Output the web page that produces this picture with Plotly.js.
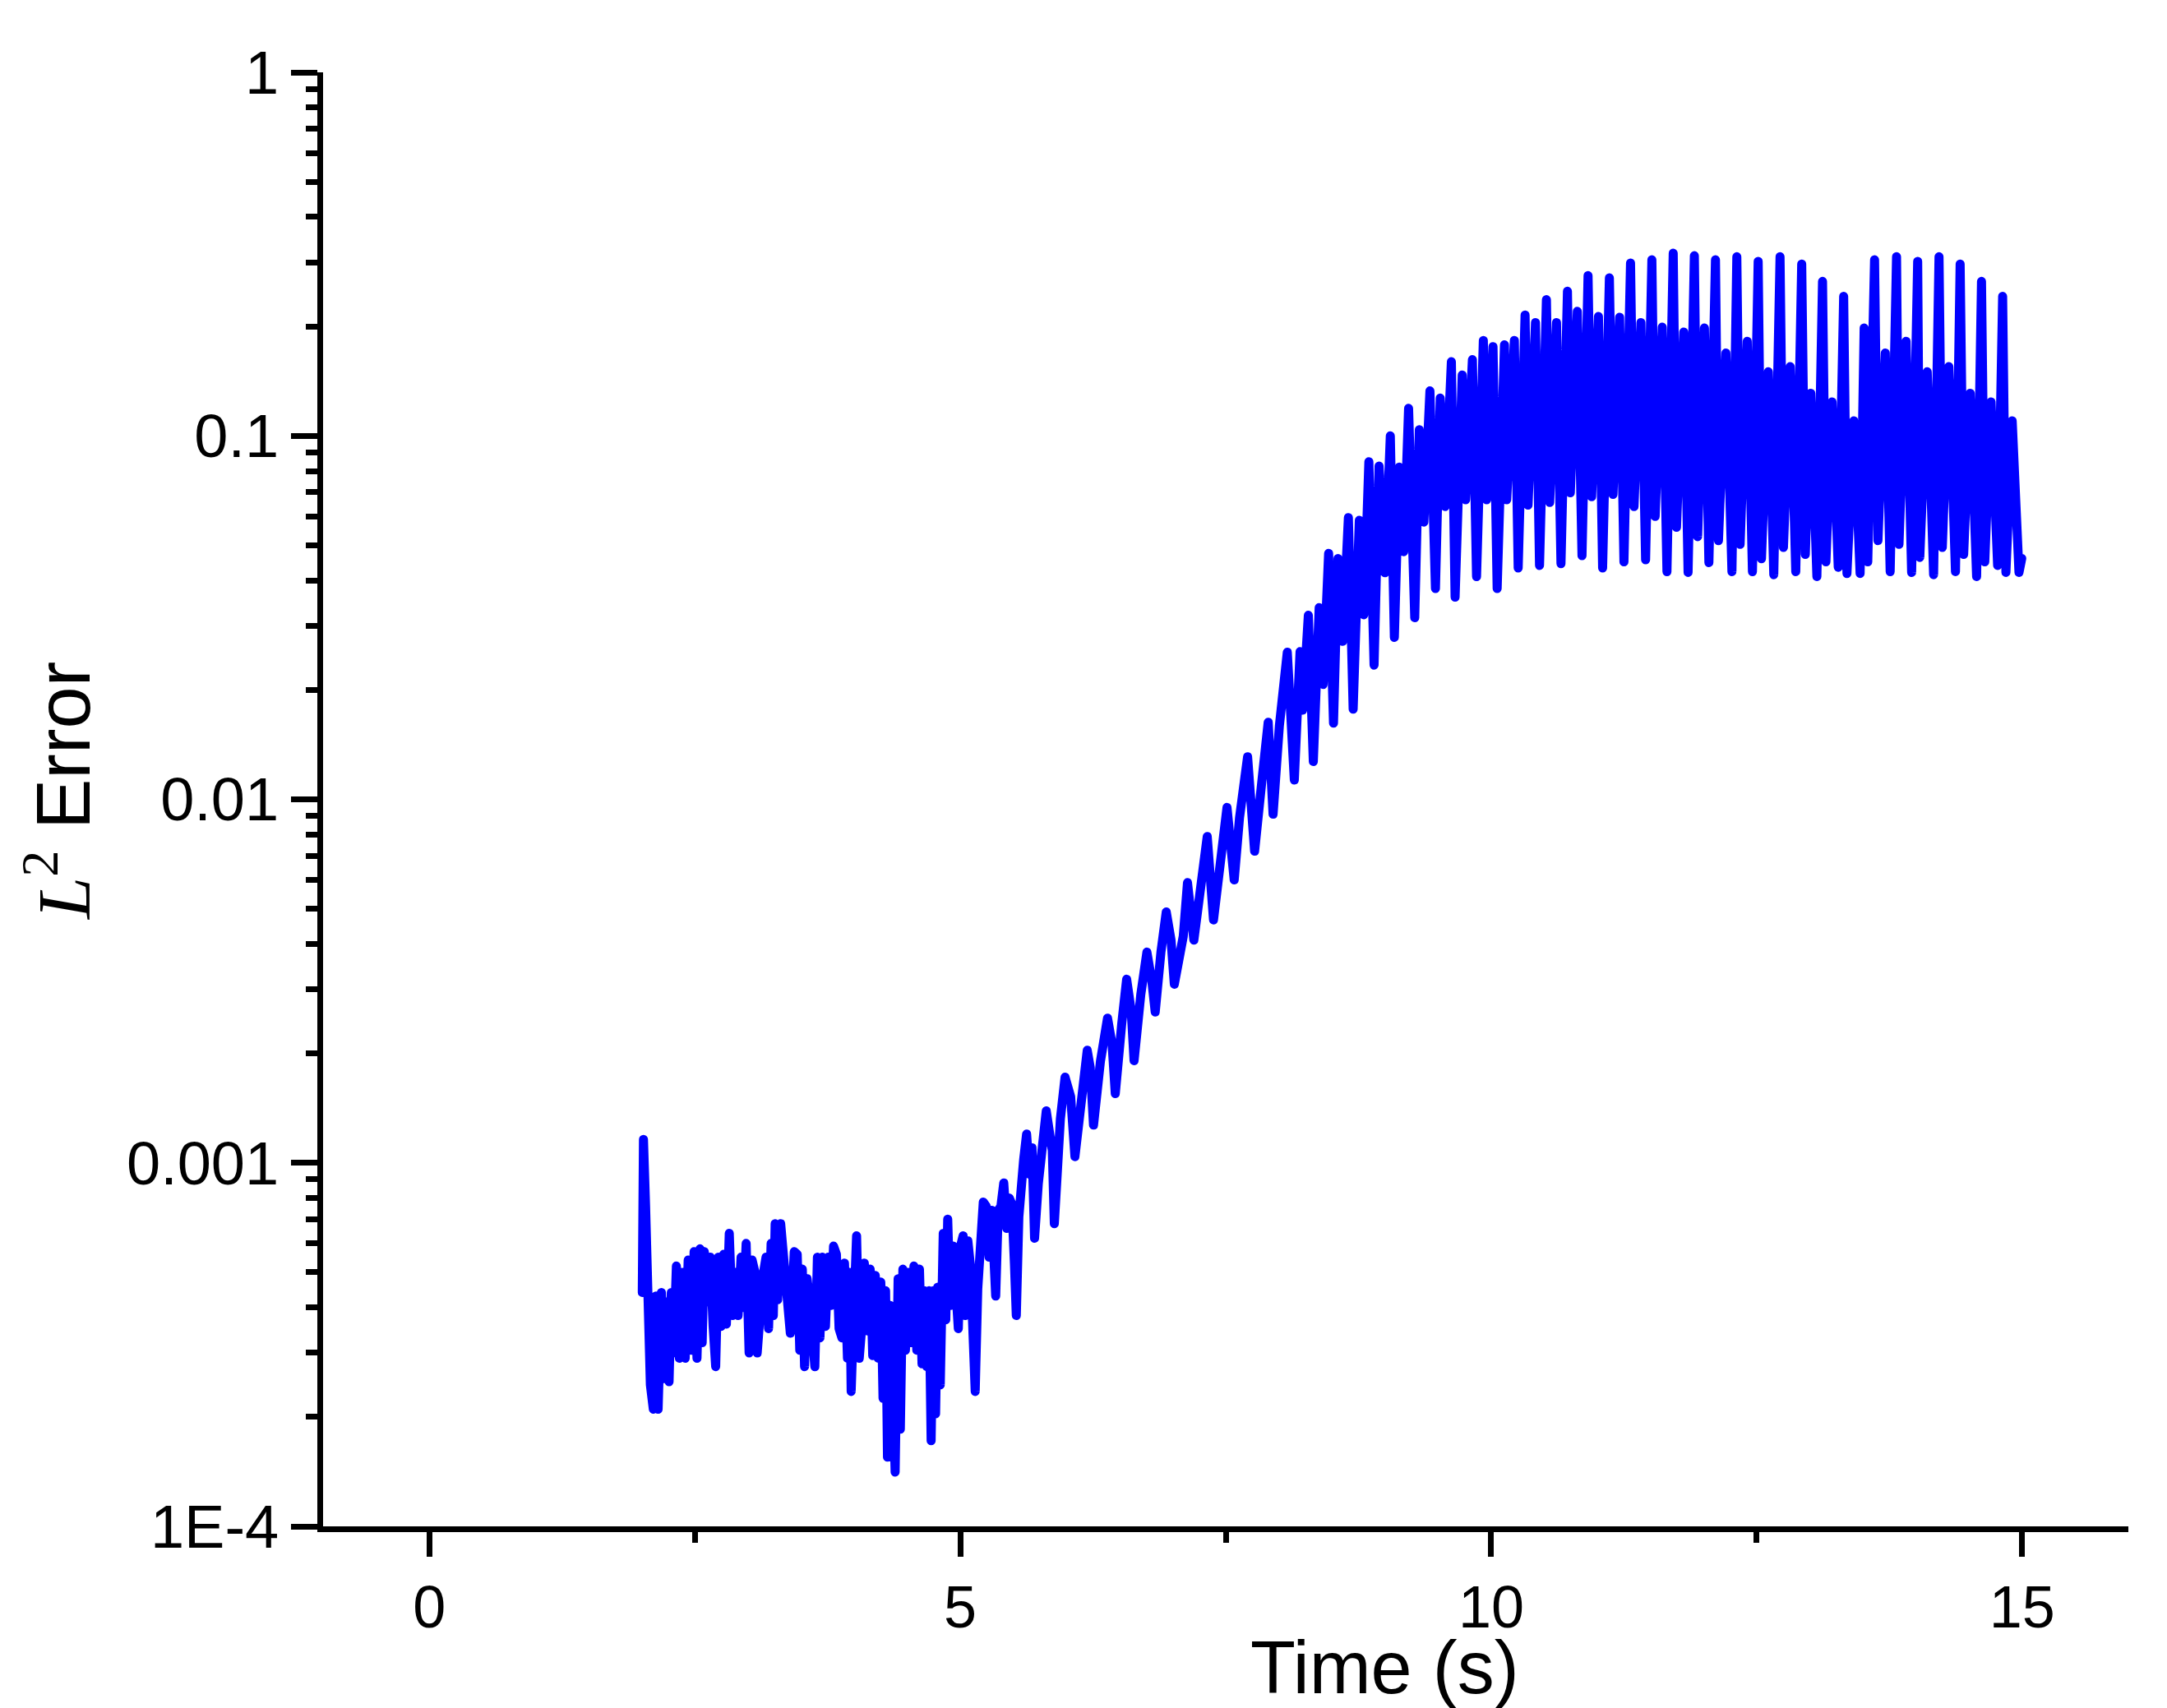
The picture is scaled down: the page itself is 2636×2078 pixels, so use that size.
<!DOCTYPE html>
<html>
<head>
<meta charset="utf-8">
<script src="https://cdn.plot.ly/plotly-3.0.1.min.js"></script>
<style>
html,body{margin:0;padding:0;background:#fff;}
#chart{width:2636px;height:2078px;}
path.js-line{stroke-linejoin:round !important;stroke-linecap:round !important;}
</style>
</head>
<body>
<div id="chart"></div>
<script>
// [time (s), L2 error]
const noisyPhase = [
[2.006,4.4e-4],[2.017,1.16e-3],[2.037,7.6e-4],[2.058,4.5e-4],[2.082,2.45e-4],[2.110,2.1e-4],[2.134,4.3e-4],[2.155,2.1e-4],[2.186,4.4e-4],[2.214,2.55e-4],
[2.238,4.15e-4],[2.258,2.5e-4],[2.279,4.4e-4],[2.300,3.0e-4],[2.327,5.2e-4],[2.355,2.9e-4],[2.383,5.0e-4],[2.410,2.9e-4],[2.438,5.4e-4],[2.466,3.05e-4],
[2.494,5.7e-4],[2.521,2.9e-4],[2.549,5.8e-4],[2.570,3.2e-4],[2.590,5.7e-4],[2.618,4.15e-4],[2.645,5.5e-4],[2.673,3.55e-4],[2.697,2.75e-4],[2.722,5.5e-4],
[2.749,3.55e-4],[2.773,5.6e-4],[2.798,3.6e-4],[2.825,6.4e-4],[2.853,3.8e-4],[2.881,5.0e-4],[2.908,3.8e-4],[2.936,5.5e-4],[2.957,4.0e-4],[2.984,6.0e-4],
[3.012,3.0e-4],[3.040,5.4e-4],[3.067,5.0e-4],[3.088,3.0e-4],[3.116,4.15e-4],[3.143,4.9e-4],[3.171,5.5e-4],[3.195,3.5e-4],[3.219,6.0e-4],[3.240,3.8e-4],
[3.257,6.8e-4],[3.281,4.2e-4],[3.309,6.8e-4],[3.333,5.8e-4],[3.357,4.4e-4],[3.400,3.4e-4],[3.437,5.7e-4],[3.465,5.6e-4],[3.489,3.05e-4],[3.513,5.1e-4],
[3.534,2.75e-4],[3.558,4.8e-4],[3.586,4.05e-4],[3.607,3.25e-4],[3.631,2.75e-4],[3.655,5.5e-4],[3.679,3.3e-4],[3.703,5.5e-4],[3.731,3.55e-4],[3.758,5.5e-4],
[3.783,4.05e-4],[3.807,5.9e-4],[3.834,5.6e-4],[3.859,3.5e-4],[3.886,3.3e-4],[3.910,5.3e-4],[3.938,2.9e-4],[3.959,5.0e-4],[3.973,2.35e-4],[4.000,4.05e-4],
[4.024,6.3e-4],[4.049,2.9e-4],[4.073,3.55e-4],[4.097,5.3e-4],[4.125,3.45e-4],[4.152,5.1e-4],[4.176,2.95e-4],[4.200,4.9e-4],[4.228,2.9e-4],[4.252,4.7e-4],
[4.273,2.25e-4],[4.297,4.45e-4],[4.315,1.55e-4],[4.342,4.05e-4],[4.367,1.52e-4],[4.387,1.41e-4],[4.415,4.8e-4],[4.436,1.85e-4],[4.460,5.1e-4],[4.484,3.05e-4],
[4.512,5.0e-4],[4.540,3.2e-4],[4.564,5.2e-4],[4.591,3.05e-4],[4.616,5.1e-4],[4.640,2.8e-4],[4.661,4.45e-4],[4.685,2.75e-4],[4.706,4.45e-4],[4.726,1.72e-4],
[4.747,4.45e-4],[4.768,2.04e-4],[4.788,4.55e-4],[4.812,2.45e-4],[4.840,6.4e-4],[4.864,3.7e-4],[4.882,7.0e-4],[4.906,4.05e-4],[4.933,5.9e-4],[4.958,4.0e-4],
[4.982,3.5e-4],[5.003,5.9e-4],[5.027,6.3e-4],[5.047,3.8e-4],[5.072,6.1e-4],[5.096,5.2e-4],[5.117,3.8e-4],[5.141,2.35e-4],[5.165,4.5e-4],[5.189,6.4e-4],
[5.217,7.8e-4],[5.244,7.6e-4],[5.272,5.5e-4],[5.296,7.4e-4],[5.317,5.5e-4],[5.334,4.3e-4],[5.358,7.4e-4],[5.383,7.6e-4],[5.410,8.8e-4],[5.438,6.6e-4],
[5.462,8.0e-4],[5.486,7.7e-4],[5.510,5.3e-4],[5.528,3.8e-4],[5.552,7.1e-4],[5.570,8.95e-4],[5.597,1.02e-3],[5.625,1.2e-3],[5.652,9.3e-4],[5.676,1.1e-3]
];
const growthPhase = [
[5.70,6.2e-4],[5.735,8.75e-4],[5.763,1.07e-3],[5.81,1.39e-3],[5.839,1.22e-3],[5.867,1.08e-3],[5.886,6.8e-4],[5.918,1.0e-3],[5.943,1.32e-3],[5.987,1.72e-3],
[6.04,1.52e-3],[6.08,1.04e-3],[6.14,1.55e-3],[6.196,2.04e-3],[6.224,1.83e-3],[6.255,1.27e-3],[6.32,1.9e-3],[6.387,2.5e-3],[6.43,2.12e-3],[6.46,1.55e-3],
[6.52,2.4e-3],[6.567,3.2e-3],[6.61,2.62e-3],[6.637,1.91e-3],[6.70,2.9e-3],[6.758,3.8e-3],[6.805,3.15e-3],[6.836,2.6e-3],[6.89,3.8e-3],[6.94,4.9e-3],
[6.985,4.1e-3],[7.016,3.1e-3],[7.10,4.2e-3],[7.14,5.9e-3],[7.20,4.1e-3],[7.27,6.3e-3],[7.326,7.9e-3],[7.385,4.66e-3],[7.45,7.1e-3],[7.512,9.5e-3],
[7.58,6.0e-3],[7.63,8.9e-3],[7.706,0.0131],[7.772,7.2e-3],[7.84,0.0112],[7.90,0.0163],[7.946,9.1e-3],[8.005,0.0159],[8.08,0.0254],[8.146,0.0113],
[8.20,0.0255],[8.224,0.0176],[8.278,0.0321],[8.325,0.0127],[8.38,0.0337],[8.417,0.0207],[8.469,0.0475],[8.515,0.0162],[8.557,0.046],[8.60,0.0272],
[8.655,0.0596],[8.70,0.0177],[8.758,0.0586],[8.80,0.0322],[8.848,0.0849],[8.897,0.0234],[8.944,0.0826],[9.00,0.042]
];
const saturationPhase = [
[9.05,0.100],[9.088,0.0279],[9.134,0.082],[9.176,0.048],[9.222,0.119],[9.28,0.0316],[9.323,0.104],[9.366,0.0579],[9.423,0.133],[9.475,0.038],
[9.52,0.127],[9.565,0.0639],[9.625,0.16],[9.66,0.036],[9.727,0.147],[9.759,0.0667],[9.823,0.162],[9.862,0.041],[9.926,0.183],[9.957,0.0667],
[10.017,0.176],[10.056,0.038],[10.125,0.178],[10.146,0.0667],[10.218,0.183],[10.254,0.0433],[10.319,0.215],[10.347,0.0645],[10.417,0.205],[10.455,0.044],
[10.52,0.237],[10.551,0.0656],[10.615,0.205],[10.657,0.0445],[10.718,0.25],[10.745,0.0697],[10.811,0.22],[10.855,0.0468],[10.912,0.276],[10.946,0.068],
[11.01,0.213],[11.049,0.0433],[11.113,0.272],[11.147,0.069],[11.209,0.212],[11.25,0.045],[11.312,0.299],[11.345,0.0639],[11.41,0.205],[11.454,0.0456],
[11.513,0.305],[11.544,0.06],[11.611,0.199],[11.655,0.0423],[11.714,0.318],[11.745,0.056],[11.813,0.193],[11.854,0.0421],[11.913,0.313],[11.944,0.0528],
[12.008,0.198],[12.05,0.0448],[12.112,0.305],[12.14,0.0515],[12.21,0.169],[12.267,0.0423],[12.313,0.311],[12.344,0.0503],[12.411,0.182],[12.46,0.0423],
[12.514,0.302],[12.545,0.0459],[12.61,0.15],[12.661,0.0415],[12.72,0.311],[12.752,0.0493],[12.816,0.155],[12.868,0.0423],[12.924,0.297],[12.958,0.0472],
[13.01,0.131],[13.067,0.041],[13.12,0.266],[13.152,0.045],[13.21,0.124],[13.268,0.0435],[13.319,0.242],[13.35,0.0418],[13.415,0.11],[13.474,0.0418],
[13.512,0.198],[13.546,0.045],[13.61,0.305],[13.642,0.0515],[13.711,0.169],[13.757,0.0423],[13.817,0.311],[13.84,0.0503],[13.907,0.182],[13.959,0.0421],
[14.016,0.302],[14.036,0.0463],[14.106,0.15],[14.166,0.0415],[14.217,0.311],[14.248,0.0493],[14.31,0.155],[14.372,0.0423],[14.416,0.297],[14.449,0.0472],
[14.511,0.131],[14.571,0.041],[14.617,0.266],[14.648,0.045],[14.707,0.124],[14.769,0.044],[14.816,0.242],[14.847,0.0421],[14.906,0.11],[14.97,0.0421],
[14.996,0.046]
];

const xTickVals = [0, 5, 10, 15];
const xTickText = ['0', '5', '10', '15'];
const yTickVals = [1e-4, 1e-3, 1e-2, 1e-1, 1];
const yTickText = ['1E-4', '0.001', '0.01', '0.1', '1'];
const yDecades = [-4, -3, -2, -1];
const yMinorDigits = [2, 3, 4, 5, 6, 7, 8, 9];

const all = noisyPhase.concat(growthPhase, saturationPhase);
const time = all.map(p => p[0]);
const err = all.map(p => p[1]);

const yMinor = [];
yDecades.forEach(d => yMinorDigits.forEach(k => yMinor.push(k * Math.pow(10, d))));

const FONT = 'Liberation Sans, Arial, sans-serif';

const trace = {
  x: time, y: err, type: 'scatter', mode: 'lines',
  line: {color: '#0000FF', width: 11},
  hoverinfo: 'skip', showlegend: false
};

const layout = {
  width: 2636, height: 2078,
  margin: {l: 393, r: 47, t: 88, b: 221, pad: 0},
  paper_bgcolor: '#ffffff', plot_bgcolor: '#ffffff',
  font: {family: FONT, color: '#000000', size: 72},
  showlegend: false,
  xaxis: {
    range: [-1, 16], type: 'linear',
    tickmode: 'array', tickvals: xTickVals, ticktext: xTickText,
    ticks: 'outside', ticklen: 30, tickwidth: 7, tickcolor: '#000',
    showline: true, linewidth: 7, linecolor: '#000', mirror: false,
    showgrid: false, zeroline: false,
    tickfont: {family: FONT, size: 72, color: '#000'},
    ticklabelstandoff: 0,
    minor: {tickmode: 'linear', tick0: 0, dtick: 2.5, ticks: 'outside', ticklen: 13, tickwidth: 7, tickcolor: '#000', showgrid: false}
  },
  yaxis: {
    type: 'log', range: [-4, 0],
    tickmode: 'array', tickvals: yTickVals, ticktext: yTickText,
    ticks: 'outside', ticklen: 32, tickwidth: 7, tickcolor: '#000',
    showline: true, linewidth: 7, linecolor: '#000', mirror: false,
    showgrid: false, zeroline: false,
    tickfont: {family: FONT, size: 74, color: '#000'},
    ticklabelstandoff: 0,
    minor: {tickmode: 'array', tickvals: yMinor, ticks: 'outside', ticklen: 14, tickwidth: 7, tickcolor: '#000', showgrid: false}
  },
  annotations: [
    {
      text: 'Time (s)', xref: 'x', yref: 'paper', x: 9, y: -0.0975,
      xanchor: 'center', yanchor: 'middle', showarrow: false,
      font: {family: FONT, size: 90, color: '#000'}
    },
    {
      text: '<span style="font-family:Liberation Serif"><i>L</i><sup>2</sup></span> Error',
      xref: 'paper', yref: 'paper', x: -0.1466, y: 0.5054,
      xanchor: 'center', yanchor: 'middle', textangle: -90, showarrow: false,
      font: {family: FONT, size: 92, color: '#000'}
    }
  ]
};

Plotly.newPlot('chart', [trace], layout, {staticPlot: true, displayModeBar: false});
</script>
</body>
</html>
